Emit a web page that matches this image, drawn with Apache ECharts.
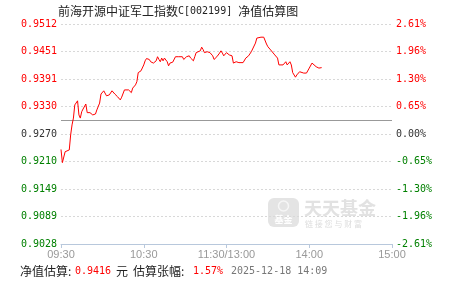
<!DOCTYPE html>
<html>
<head>
<meta charset="utf-8">
<script src="https://cdn.jsdelivr.net/npm/echarts@6/dist/echarts.min.js"></script>
<style>
html,body{margin:0;padding:0;background:#fff;}
#c{width:451px;height:281px;}
</style>
</head>
<body>
<div id="c"></div>
<script>
// ---- data ----
const titleName = '前海开源中证军工指数';
const titleCode = 'C[002199] ';
const titleSuffix = '净值估算图';
const xTickLabels = ['09:30', '10:30', '11:30/13:00', '14:00', '15:00'];
const navTickLabels = ['0.9028', '0.9089', '0.9149', '0.9210', '0.9270', '0.9330', '0.9391', '0.9451', '0.9512'];
const pctTickLabels = ['-2.61%', '-1.96%', '-1.30%', '-0.65%', '0.00%', '0.65%', '1.30%', '1.96%', '2.61%'];
const baseNav = 0.9270;
const navMin = 0.9028;
const navMax = 0.9512;
// minute index from 09:30 (0..120 morning, 121..240 afternoon 13:01..15:00)
const minutes = [0,1,2,3,4,6,7,8,9,10,11,12,13,14,15,16,17,18,19,20,21,23,24,25,26,28,29,30,31,32,33,34,35,37,38,39,41,43,44,46,47,49,51,52,54,55,56,57,58,59,60,61,62,64,65,67,69,70,71,72,73,74,75,77,78,79,80,81,83,84,85,86,88,89,91,93,94,96,97,98,99,101,102,103,104,106,107,108,110,111,113,115,116,117,118,120,122,124,125,127,129,130,132,134,136,137,138,139,141,142,143,145,147,148,149,150,152,153,155,157,158,159,161,163,164,166,167,168,170,171,173,174,176,178,180,182,183,185,187,189];
const navValues = [0.9236,0.9207,0.9209,0.9231,0.9230,0.9235,0.9268,0.9290,0.9305,0.9334,0.9338,0.9343,0.9312,0.9305,0.9319,0.9325,0.9325,0.9336,0.9317,0.9316,0.9317,0.9312,0.9308,0.9314,0.9323,0.9338,0.9358,0.9361,0.9365,0.9362,0.9354,0.9352,0.9356,0.9365,0.9365,0.9358,0.9352,0.9345,0.9351,0.9367,0.9371,0.9367,0.9361,0.9371,0.9378,0.9385,0.9405,0.9407,0.9409,0.9412,0.9422,0.9431,0.9436,0.9434,0.9429,0.9426,0.9431,0.9440,0.9434,0.9429,0.9437,0.9431,0.9437,0.9429,0.9420,0.9426,0.9429,0.9428,0.9440,0.9442,0.9440,0.9444,0.9440,0.9434,0.9440,0.9442,0.9437,0.9431,0.9440,0.9449,0.9449,0.9453,0.9461,0.9456,0.9449,0.9451,0.9453,0.9449,0.9442,0.9434,0.9440,0.9448,0.9453,0.9448,0.9442,0.9449,0.9444,0.9442,0.9426,0.9429,0.9427,0.9431,0.9427,0.9437,0.9442,0.9440,0.9451,0.9455,0.9470,0.9481,0.9483,0.9483,0.9483,0.9481,0.9468,0.9462,0.9455,0.9453,0.9444,0.9437,0.9422,0.9418,0.9422,0.9429,0.9422,0.9429,0.9422,0.9405,0.9395,0.9400,0.9407,0.9406,0.9404,0.9404,0.9415,0.9426,0.9422,0.9418,0.9415,0.9416];
const estNav = '0.9416';
const estPct = '1.57%';
const estTime = '2025-12-18 14:09';

const seriesData = minutes.map((m, i) => [m, navValues[i]]);

function tickColor(i) {
  if (i < 4) return '#008000';
  if (i === 4) return '#333333';
  return '#ff0000';
}
const mono = '"DejaVu Sans Mono", "Liberation Mono", monospace';
const cjk = '"Noto Sans CJK SC", "Noto Sans", sans-serif';

const chart = echarts.init(document.getElementById('c'), null, {renderer: 'canvas'});
chart.setOption({
  animation: false,
  backgroundColor: '#ffffff',
  grid: {left: 61, right: 59, top: 24, bottom: 37, containLabel: false},
  xAxis: {
    type: 'value', min: 0, max: 240, interval: 60,
    axisLine: {show: true, lineStyle: {color: '#b8c8dc', width: 1}},
    axisTick: {show: true, length: 4, lineStyle: {color: '#b8c8dc'}},
    splitLine: {show: false},
    axisLabel: {
      color: '#999999', fontSize: 11, fontFamily: '"Liberation Sans", Arial, sans-serif', margin: 5,
      formatter: (v) => xTickLabels[Math.round(v / 60)]
    }
  },
  yAxis: [
    {type: 'value', min: navMin, max: navMax, show: false, scale: true},
    {
      type: 'category', position: 'left', data: navTickLabels, boundaryGap: false,
      axisLine: {show: false}, axisTick: {show: false},
      axisLabel: {fontSize: 10, fontFamily: mono, margin: 4, color: (v, i) => tickColor(i)},
      splitLine: {show: true, lineStyle: {color: '#d8d8d8', type: [2, 2], width: 1}}
    },
    {
      type: 'category', position: 'right', data: pctTickLabels, boundaryGap: false,
      axisLine: {show: false}, axisTick: {show: false},
      axisLabel: {fontSize: 10, fontFamily: mono, margin: 4, color: (v, i) => tickColor(i)},
      splitLine: {show: false}
    }
  ],
  series: [{
    type: 'line', yAxisIndex: 0, data: seriesData, showSymbol: false, symbol: 'none',
    lineStyle: {color: '#ff0000', width: 1}, z: 5,
    markLine: {
      silent: true, symbol: 'none', label: {show: false},
      lineStyle: {color: '#999999', type: 'solid', width: 1},
      data: [{yAxis: baseNav}]
    }
  }],
  graphic: [
    {
      type: 'text', left: 58, top: 5,
      style: {
        text: '{c|' + titleName + '}{m|' + titleCode + '}{c|' + titleSuffix + '}',
        rich: {
          c: {fill: '#222222', font: '12px ' + cjk, verticalAlign: 'middle'},
          m: {fill: '#222222', font: '10px ' + mono, verticalAlign: 'middle'}
        }
      }
    },
    {type: 'text', left: 20, top: 265, style: {text: '净值估算:', fill: '#222222', font: '12px ' + cjk}},
    {type: 'text', left: 75, top: 266, style: {text: estNav, fill: '#ff0000', font: '10px ' + mono}},
    {type: 'text', left: 116, top: 265, style: {text: '元', fill: '#222222', font: '12px ' + cjk}},
    {type: 'text', left: 133, top: 265, style: {text: '估算张幅:', fill: '#222222', font: '12px ' + cjk}},
    {type: 'text', left: 193, top: 266, style: {text: estPct, fill: '#ff0000', font: '10px ' + mono}},
    {type: 'text', left: 231, top: 266, style: {text: estTime, fill: '#777777', font: '10px ' + mono}},
    {
      type: 'group', left: 268, top: 198, silent: true,
      children: [
        {type: 'rect', shape: {x: 0, y: 0, width: 31, height: 29, r: 6}, style: {fill: '#e4e4e4'}},
        {type: 'circle', shape: {cx: 15.5, cy: 8, r: 5}, style: {fill: 'none', stroke: '#f6f6f6', lineWidth: 1.5}},
        {type: 'text', x: 15.5, y: 17, style: {text: '基金', fill: '#ffffff', font: 'bold 9px ' + cjk, align: 'center'}},
        {type: 'text', x: 36, y: 1, style: {text: '天天基金', fill: '#e2e2e2', font: 'bold 18px ' + cjk}},
        {type: 'text', x: 37, y: 22, style: {text: '链 接 您 与 财 富', fill: '#dddddd', font: '8px ' + cjk}}
      ]
    }
  ]
});
</script>
</body>
</html>
